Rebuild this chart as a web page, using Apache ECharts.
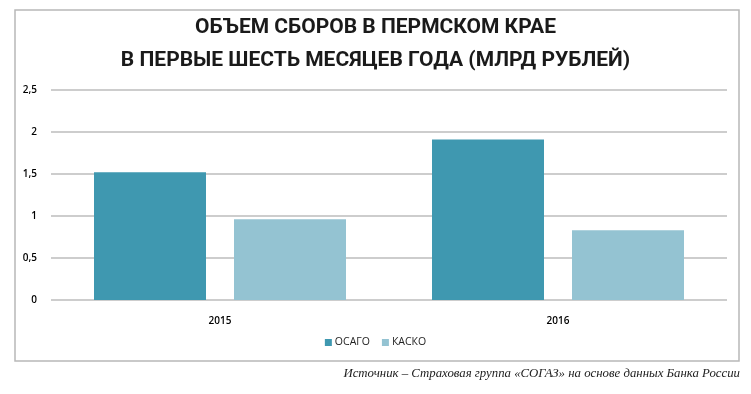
<!DOCTYPE html>
<html>
<head>
<meta charset="utf-8">
<script src="https://cdn.jsdelivr.net/npm/echarts@6/dist/echarts.min.js"></script>
<style>html,body{margin:0;padding:0;background:#fff}#c{width:751px;height:394px}</style>
</head>
<body>
<div id="c"></div>
<script>
const categories = ['2015', '2016'];
const osago = [1.52, 1.91];
const kasko = [0.96, 0.83];
const seriesNames = ['ОСАГО', 'КАСКО'];
const yTicks = [0, 0.5, 1, 1.5, 2, 2.5];
const titleLines = ['ОБЪЕМ СБОРОВ В ПЕРМСКОМ КРАЕ', 'В ПЕРВЫЕ ШЕСТЬ МЕСЯЦЕВ ГОДА (МЛРД РУБЛЕЙ)'];
const sourceText = 'Источник – Страховая группа «СОГАЗ» на основе данных Банка России';

const chart = echarts.init(document.getElementById('c'), null, {renderer: 'canvas'});
chart.setOption({
  animation: false,
  title: {
    text: titleLines.join('\n'),
    left: 'center',
    top: 6,
    textStyle: {
      fontFamily: '"Roboto", sans-serif',
      fontWeight: 'bold',
      fontSize: 21,
      lineHeight: 33,
      color: '#1a1a1a'
    }
  },
  legend: {
    data: seriesNames,
    bottom: 41,
    left: 'center',
    icon: 'rect',
    itemWidth: 7,
    itemHeight: 7,
    itemGap: 12,
    textStyle: {fontFamily: '"Open Sans", sans-serif', fontSize: 10.5, color: '#222', padding: [0, 0, 0, -2]}
  },
  grid: {left: 51, right: 24, top: 90, bottom: 94, containLabel: false},
  xAxis: {
    type: 'category',
    data: categories,
    axisLine: {show: false},
    axisTick: {show: false},
    axisLabel: {margin: 16, fontFamily: '"Open Sans", sans-serif', fontSize: 10, fontWeight: 600, color: '#000'}
  },
  yAxis: {
    type: 'value',
    min: 0,
    max: 2.5,
    interval: 0.5,
    axisLine: {show: false},
    axisTick: {show: false},
    splitLine: {lineStyle: {color: '#bdbdbd', width: 1.5}},
    axisLabel: {
      margin: 14,
      fontFamily: '"Open Sans", sans-serif',
      fontSize: 10,
      fontWeight: 600,
      color: '#000',
      formatter: v => String(v).replace('.', ',')
    }
  },
  series: [
    {name: seriesNames[0], type: 'bar', data: osago, barWidth: 112, barGap: '25%',
     itemStyle: {color: '#3f98b0'}},
    {name: seriesNames[1], type: 'bar', data: kasko, barWidth: 112,
     itemStyle: {color: '#94c3d2'}}
  ],
  graphic: [
    {type: 'rect', shape: {x: 15, y: 10, width: 724, height: 351}, silent: true, z: -1,
     style: {fill: 'none', stroke: '#b8b8b8', lineWidth: 1.5}},
    {type: 'text', right: 11, top: 367,
     style: {text: sourceText, fontFamily: '"Liberation Serif", "DejaVu Serif", serif', fontStyle: 'italic',
             fontSize: 12.8, fill: '#222'}}
  ]
});
</script>
</body>
</html>
